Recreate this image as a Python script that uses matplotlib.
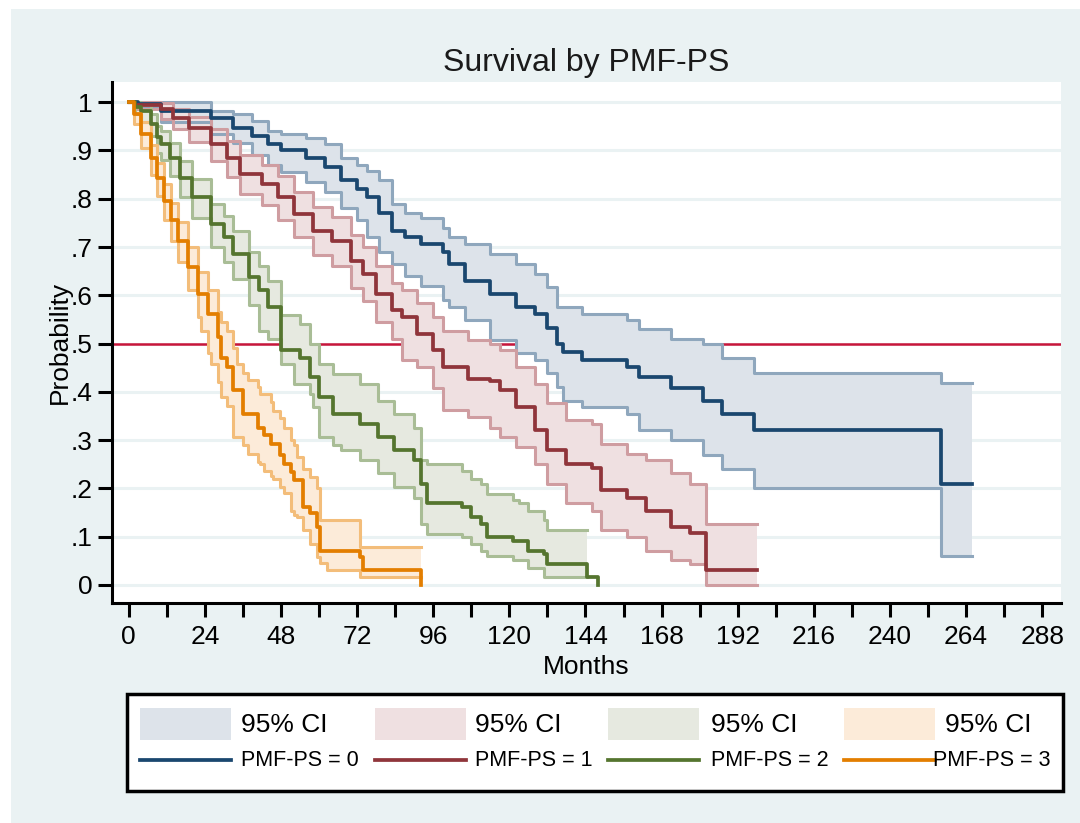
import numpy as np
import matplotlib
matplotlib.use('Agg')
import matplotlib.pyplot as plt
from matplotlib.patches import Rectangle
from matplotlib.lines import Line2D

plt.rcParams['font.family'] = ['Liberation Sans', 'DejaVu Sans']

nan = np.nan

# ---------------- data ----------------
# PMF-PS = 0
t0  = [0, 3, 10, 26, 33, 39, 44, 48, 56, 62, 67, 72, 75, 79, 83, 87, 92, 99, 101, 106, 114, 122, 128, 132, 135, 137, 143, 157, 161, 171, 181, 187, 197, 256, 266]
s0  = [1.000, 0.997, 0.982, 0.968, 0.947, 0.930, 0.914, 0.900, 0.885, 0.865, 0.838, 0.820, 0.803, 0.770, 0.734, 0.720, 0.706, 0.690, 0.665, 0.630, 0.603, 0.575, 0.562, 0.533, 0.500, 0.482, 0.465, 0.451, 0.430, 0.407, 0.382, 0.355, 0.320, 0.210, 0.210]
lo0 = [1.000, 0.990, 0.960, 0.935, 0.915, 0.890, 0.870, 0.855, 0.835, 0.815, 0.780, 0.755, 0.720, 0.690, 0.665, 0.640, 0.620, 0.590, 0.575, 0.548, 0.507, 0.480, 0.465, 0.440, 0.410, 0.382, 0.368, 0.355, 0.320, 0.300, 0.270, 0.240, 0.200, 0.060, 0.060]
hi0 = [1.000, 1.000, 1.000, 0.982, 0.975, 0.962, 0.940, 0.935, 0.925, 0.914, 0.885, 0.870, 0.858, 0.838, 0.790, 0.770, 0.760, 0.740, 0.720, 0.706, 0.686, 0.665, 0.645, 0.617, 0.575, 0.575, 0.562, 0.548, 0.531, 0.510, 0.500, 0.470, 0.440, 0.418, 0.418]

# PMF-PS = 1
t1  = [0, 2, 10, 14, 19, 26, 31, 35, 42, 47, 52, 58, 64, 70, 74, 78, 83, 86, 91, 96, 99, 107, 114, 117, 122, 128, 132, 138, 146, 149, 157, 163, 171, 177, 182, 198]
s1  = [1.000, 0.995, 0.985, 0.968, 0.947, 0.914, 0.885, 0.851, 0.830, 0.803, 0.769, 0.734, 0.713, 0.672, 0.645, 0.603, 0.569, 0.555, 0.520, 0.486, 0.451, 0.427, 0.423, 0.403, 0.368, 0.320, 0.279, 0.251, 0.243, 0.196, 0.181, 0.154, 0.120, 0.107, 0.030, 0.030]
lo1 = [1.000, 0.985, 0.965, 0.945, 0.918, 0.878, 0.845, 0.810, 0.787, 0.757, 0.720, 0.683, 0.660, 0.616, 0.588, 0.545, 0.510, 0.465, 0.451, 0.409, 0.362, 0.347, 0.326, 0.306, 0.285, 0.251, 0.210, 0.169, 0.154, 0.113, 0.099, 0.071, 0.051, 0.044, 0.000, 0.000]
hi1 = [1.000, 1.000, 0.998, 0.985, 0.970, 0.945, 0.920, 0.890, 0.870, 0.848, 0.815, 0.783, 0.763, 0.725, 0.700, 0.660, 0.626, 0.610, 0.585, 0.555, 0.527, 0.507, 0.500, 0.486, 0.451, 0.417, 0.376, 0.341, 0.334, 0.293, 0.272, 0.258, 0.231, 0.210, 0.127, 0.127]

# PMF-PS = 2
t2  = [0, 2, 4, 7, 9, 10, 13, 16, 20, 26, 30, 33, 38, 41, 44, 48, 52, 54, 57, 58, 60, 64.5, 67, 73, 78.5, 83.5, 90, 92, 94, 105, 108, 111, 113, 121, 123, 126, 131, 132, 144.5, 148]
s2  = [1.000, 0.990, 0.982, 0.955, 0.927, 0.914, 0.885, 0.844, 0.803, 0.748, 0.720, 0.686, 0.637, 0.610, 0.575, 0.486, 0.486, 0.471, 0.430, 0.430, 0.389, 0.355, 0.355, 0.334, 0.306, 0.279, 0.258, 0.210, 0.169, 0.161, 0.140, 0.127, 0.099, 0.092, 0.092, 0.071, 0.064, 0.044, 0.016, 0.000]
lo2 = [1.000, 0.975, 0.960, 0.930, 0.895, 0.880, 0.848, 0.803, 0.760, 0.700, 0.670, 0.634, 0.580, 0.527, 0.510, 0.458, 0.417, 0.417, 0.395, 0.368, 0.306, 0.290, 0.279, 0.258, 0.231, 0.202, 0.181, 0.127, 0.106, 0.099, 0.085, 0.071, 0.060, 0.051, 0.051, 0.035, 0.016, 0.016, nan, nan]
hi2 = [1.000, 1.000, 0.995, 0.975, 0.950, 0.940, 0.915, 0.878, 0.840, 0.790, 0.765, 0.733, 0.690, 0.660, 0.630, 0.560, 0.560, 0.540, 0.500, 0.500, 0.458, 0.437, 0.437, 0.417, 0.382, 0.355, 0.326, 0.258, 0.250, 0.237, 0.220, 0.210, 0.189, 0.175, 0.169, 0.154, 0.134, 0.113, nan, nan]

# PMF-PS = 3
t3  = [0, 1.6, 3.8, 7, 9, 11, 13.2, 15.4, 18.6, 21.7, 22.7, 24.9, 25.8, 28, 29, 31, 33, 34, 36, 37.5, 40.6, 41.5, 42.5, 44.7, 45.6, 47.8, 48.8, 51, 52, 53, 55, 57, 59.5, 60.4, 62.6, 73, 74, 92]
s3  = [1.000, 0.976, 0.935, 0.885, 0.844, 0.796, 0.755, 0.713, 0.658, 0.603, 0.603, 0.562, 0.562, 0.513, 0.471, 0.451, 0.403, 0.403, 0.355, 0.355, 0.326, 0.326, 0.310, 0.293, 0.293, 0.270, 0.251, 0.235, 0.217, 0.217, 0.161, 0.150, 0.120, 0.071, 0.071, 0.057, 0.030, 0.000]
lo3 = [1.000, 0.955, 0.905, 0.850, 0.805, 0.755, 0.712, 0.668, 0.610, 0.555, 0.527, 0.480, 0.458, 0.420, 0.389, 0.370, 0.306, 0.306, 0.290, 0.272, 0.255, 0.250, 0.237, 0.225, 0.220, 0.202, 0.190, 0.154, 0.145, 0.140, 0.113, 0.085, 0.057, 0.045, 0.030, 0.016, 0.016, nan]
hi3 = [1.000, 0.990, 0.958, 0.912, 0.875, 0.830, 0.792, 0.752, 0.700, 0.648, 0.648, 0.610, 0.610, 0.565, 0.545, 0.527, 0.490, 0.458, 0.440, 0.424, 0.410, 0.396, 0.396, 0.380, 0.361, 0.345, 0.326, 0.300, 0.290, 0.265, 0.240, 0.223, 0.200, 0.134, 0.134, 0.078, 0.078, nan]

groups = ["PMF-PS = 0", "PMF-PS = 1", "PMF-PS = 2", "PMF-PS = 3"]
ci_label = "95% CI"
x_ticks = list(range(0, 289, 24))
x_minor = list(range(12, 289, 24))
y_ticks = [0, .1, .2, .3, .4, .5, .6, .7, .8, .9, 1]
y_ticklabels = ["0", ".1", ".2", ".3", ".4", ".5", ".6", ".7", ".8", ".9", "1"]
median_line = 0.5

# ---------------- style ----------------
main_col = ["#1a476f", "#90353b", "#55752f", "#e37e00"]
fill_col = ["#dde3ea", "#efe0e1", "#e6e9e0", "#fcebd9"]
edge_col = ["#8fa7bd", "#cf9da1", "#a9bd96", "#f3bd7a"]
bg = "#eaf2f3"

W, H = 1080, 823
fig = plt.figure(figsize=(W / 100, H / 100), dpi=100, facecolor="white")
fig.add_artist(Rectangle((11 / W, 0), 1 - 11 / W, 1 - 9 / H, transform=fig.transFigure,
                         facecolor=bg, edgecolor="none", zorder=-10))

ax = fig.add_axes([111.6 / W, (H - 602.6) / H, (1060.6 - 111.6) / W, (602.6 - 82.4) / H])
ax.set_facecolor("white")
ax.set_axisbelow(True)


def band_steps(t, lo, hi):
    """Valid CI rows, with the last valid values held up to the first undefined time."""
    t = np.asarray(t, float); lo = np.asarray(lo, float); hi = np.asarray(hi, float)
    ok = ~(np.isnan(lo) | np.isnan(hi))
    n = ok.sum()
    tt, ll, hh = list(t[:n]), list(lo[:n]), list(hi[:n])
    if n < len(t):
        tt.append(t[n]); ll.append(lo[n - 1]); hh.append(hi[n - 1])
    return np.array(tt), np.array(ll), np.array(hh)


data = [(t0, s0, lo0, hi0), (t1, s1, lo1, hi1), (t2, s2, lo2, hi2), (t3, s3, lo3, hi3)]
for i, (t, s, lo, hi) in enumerate(data):
    tb, lb, hb = band_steps(t, lo, hi)
    ax.fill_between(tb, lb, hb, step="post", facecolor=fill_col[i], edgecolor="none", lw=0, zorder=2 + i * 0.1)
    ax.step(tb, lb, where="post", color=edge_col[i], lw=2.2, zorder=3 + i * 0.1)
    ax.step(tb, hb, where="post", color=edge_col[i], lw=2.2, zorder=3 + i * 0.1)
for i, (t, s, lo, hi) in enumerate(data):
    ax.step(t, s, where="post", color=main_col[i], lw=2.7, zorder=5 + i * 0.1)

ax.axhline(median_line, color="#c8153a", lw=1.8, zorder=1.5)

ax.set_xlim(-5.42, 293.8)
ax.set_ylim(-0.0365, 1.041)
ax.set_xticks(x_ticks)
ax.set_xticks(x_minor, minor=True)
ax.set_yticks(y_ticks)
ax.set_yticklabels(y_ticklabels)
ax.tick_params(axis="x", which="both", direction="out", length=10, width=2.2, pad=6, labelsize=19, colors="black")
ax.tick_params(axis="y", which="major", direction="out", length=10, width=2.2, pad=4, labelsize=19, colors="black")
ax.yaxis.grid(True, color=bg, lw=2.2)
ax.xaxis.grid(False)
for side in ["top", "right"]:
    ax.spines[side].set_visible(False)
for side in ["left", "bottom"]:
    ax.spines[side].set_linewidth(2.2)
    ax.spines[side].set_color("black")

ax.set_xlabel("Months", fontsize=19, labelpad=4.5)
ax.set_ylabel("Probability", fontsize=19, labelpad=-1)
ax.set_title("Survival by PMF-PS", fontsize=23, pad=8, color="#1a1a1a")

# ---------------- legend (manual, in pixel coords) ----------------
lax = fig.add_axes([0, 0, 1, 1], facecolor="none")
lax.set_xlim(0, W)
lax.set_ylim(H, 0)
lax.axis("off")
lax.add_patch(Rectangle((127, 694), 936, 97, facecolor="white", edgecolor="black", lw=2.5))
key_x = [140, 375, 608, 844]
ci_text_x = [241, 475, 711, 945]
grp_text_x = [241, 475, 711, 933]
for i in range(4):
    lax.add_patch(Rectangle((key_x[i], 708), 91, 32, facecolor=fill_col[i], edgecolor="none"))
    lax.text(ci_text_x[i], 725, ci_label, fontsize=19, va="center", ha="left")
    lax.add_line(Line2D([key_x[i], key_x[i] + 91], [760, 760], color=main_col[i], lw=2.7))
    lax.text(grp_text_x[i], 760, groups[i], fontsize=15.5, va="center", ha="left")

fig.savefig("out.png", dpi=100, facecolor=fig.get_facecolor())
